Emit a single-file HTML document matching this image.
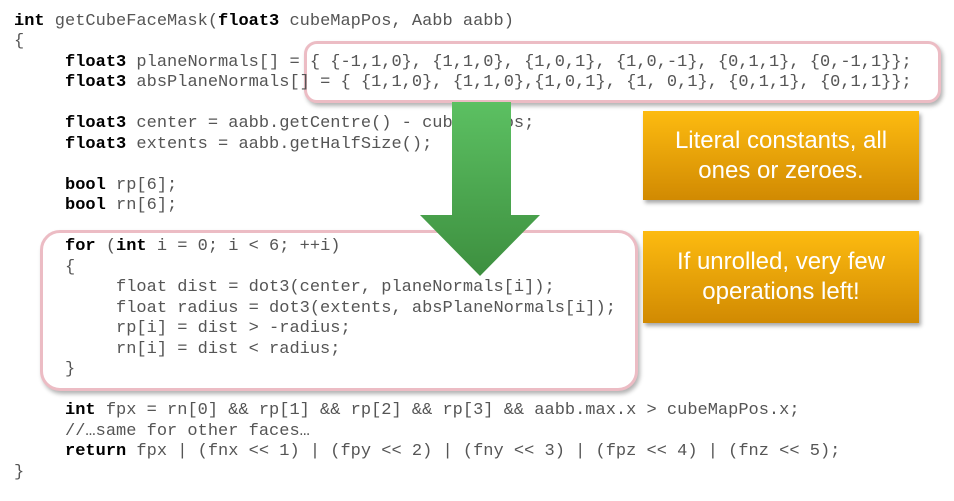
<!DOCTYPE html>
<html><head><meta charset="utf-8"><style>
body{margin:0;width:954px;height:501px;background:#fff;position:relative;overflow:hidden;font-family:"Liberation Mono",monospace}
.box{position:absolute;border:3px solid #ecbcc4;border-radius:16px;background:#fff;box-shadow:2px 3px 4px rgba(0,0,0,.3)}
pre{position:absolute;left:14px;top:11.75px;margin:0;font-family:"Liberation Mono",monospace;font-size:17px;line-height:20.5px;color:#555}
b{color:#000}
.ob{position:absolute;left:643px;width:276px;background:linear-gradient(#fdbb10,#d18a02);box-shadow:2px 3px 4px rgba(0,0,0,.35);color:#fff;font-family:"Liberation Sans",sans-serif;font-size:24px;line-height:30px;text-align:center;display:flex;align-items:center;justify-content:center}
</style></head><body>
<div class="box" style="left:304px;top:41px;width:631px;height:56px;border-radius:13px"></div>
<div class="box" style="left:40px;top:230px;width:592px;height:155px;border-radius:20px"></div>
<pre><b>int</b> getCubeFaceMask(<b>float3</b> cubeMapPos, Aabb aabb)
{
     <b>float3</b> planeNormals[] = { {-1,1,0}, {1,1,0}, {1,0,1}, {1,0,-1}, {0,1,1}, {0,-1,1}};
     <b>float3</b> absPlaneNormals[] = { {1,1,0}, {1,1,0},{1,0,1}, {1, 0,1}, {0,1,1}, {0,1,1}};

     <b>float3</b> center = aabb.getCentre() - cubeMapPos;
     <b>float3</b> extents = aabb.getHalfSize();

     <b>bool</b> rp[6];
     <b>bool</b> rn[6];

     <b>for</b> (<b>int</b> i = 0; i &lt; 6; ++i)
     {
          float dist = dot3(center, planeNormals[i]);
          float radius = dot3(extents, absPlaneNormals[i]);
          rp[i] = dist &gt; -radius;
          rn[i] = dist &lt; radius;
     }

     <b>int</b> fpx = rn[0] &amp;&amp; rp[1] &amp;&amp; rp[2] &amp;&amp; rp[3] &amp;&amp; aabb.max.x &gt; cubeMapPos.x;
     //…same for other faces…
     <b>return</b> fpx | (fnx &lt;&lt; 1) | (fpy &lt;&lt; 2) | (fny &lt;&lt; 3) | (fpz &lt;&lt; 4) | (fnz &lt;&lt; 5);
}</pre>
<svg style="position:absolute;left:0;top:0" width="954" height="501">
<defs><linearGradient id="g" x1="0" y1="0" x2="0" y2="1"><stop offset="0" stop-color="#5cc062"/><stop offset="1" stop-color="#3d8f3f"/></linearGradient></defs>
<polygon points="452,102 511,102 511,215 540,215 480,276 420,215 452,215" fill="url(#g)"/>
</svg>
<div class="ob" style="top:111px;height:89px">Literal constants, all<br>ones or zeroes.</div>
<div class="ob" style="top:231px;height:92px">If unrolled, very few<br>operations left!</div>
</body></html>
